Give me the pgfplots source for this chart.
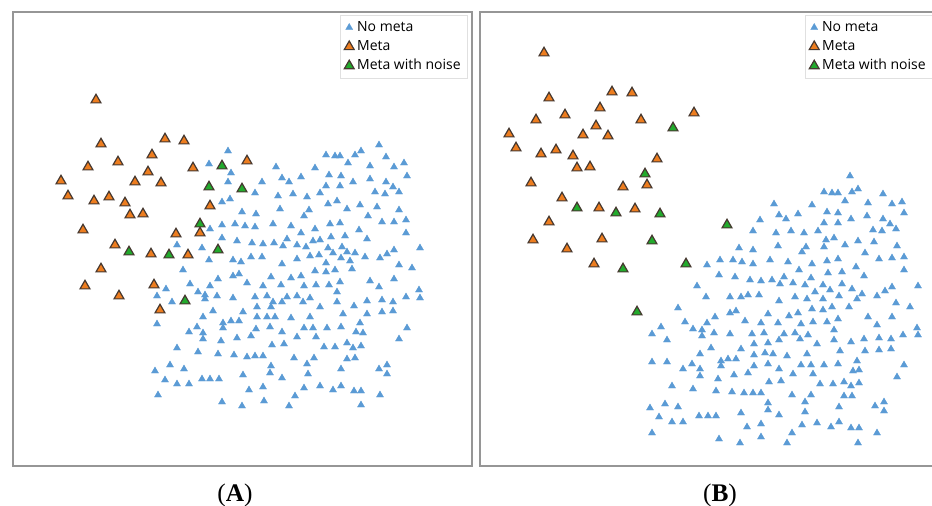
\documentclass[border=0pt]{standalone}
\usepackage{fontspec}
\setmainfont{Open Sans}
\newfontfamily\labfont{Liberation Serif}
\usepackage{pgfplots}
\pgfplotsset{compat=1.18}
\definecolor{cblue}{RGB}{91,155,213}
\definecolor{corange}{RGB}{237,125,31}
\definecolor{cgreen}{RGB}{34,170,44}
\definecolor{cedge}{RGB}{70,56,48}
\definecolor{cframe}{RGB}{150,150,150}
\pgfplotsset{
  panel/.style={
    scale only axis, y dir=reverse,
    xtick=\empty, ytick=\empty,
    ymin=12, ymax=466, height=340.5pt,
    axis line style={draw=cframe, line width=1.5pt},
    clip=false,
    legend cell align=left,
    legend style={draw=black!12, line width=0.4pt, font=\fontsize{10.5}{12}\selectfont,
      nodes={inner sep=2.2pt, text height=7.8pt, text depth=2.2pt}, anchor=north west},
  },
  nometa/.style={only marks, mark=triangle*, mark size=3.1pt, color=cblue, mark options={fill=cblue, draw=cblue, line width=0.2pt}},
  meta/.style={only marks, mark=triangle*, mark size=4.3pt, mark options={fill=corange, draw=cedge, line width=0.9pt}},
  metanoise/.style={only marks, mark=triangle*, mark size=4.3pt, mark options={fill=cgreen, draw=cedge, line width=0.9pt}},
}
\begin{document}
\begin{tikzpicture}
% ---------------- Panel A ----------------
\begin{axis}[panel, at={(9.75pt,-9pt)}, anchor=north west,
  width=344.25pt, xmin=13, xmax=472,
  legend style={at={(axis cs:340,15)}}]
\addplot[nometa] coordinates {
(228,151)(209,164)(231,173)(228,182)(262,182)(255,193)(222,202)(230,199)(242,212)(256,214)
(210,229)(222,225)(235,224)(245,226)(255,227)(273,224)(222,238)(237,241)(252,243)(263,244)
(274,243)(283,246)(291,226)(301,233)(280,209)(278,196)(293,194)(307,197)(320,193)(328,204)
(337,201)(347,209)(309,210)(304,216)(315,229)(330,224)(340,223)(360,205)(368,216)(377,207)
(382,222)(394,222)(406,220)(399,210)(385,194)(375,192)(393,187)(399,192)(386,182)(370,179)
(353,182)(340,186)(326,186)(329,175)(341,176)(315,168)(301,177)(289,182)(282,178)(276,167)
(326,155)(335,156)(340,156)(348,163)(355,155)(361,151)(379,145)(386,157)(370,166)(394,167)
(404,163)(407,176)(406,233)(420,248)(394,250)(387,254)(380,258)(367,239)(359,230)(345,236)
(342,247)(331,237)(328,248)(333,253)(320,240)(313,241)(306,247)(297,245)(287,239)
(347,252)(355,253)(365,257)(341,258)(350,261)(319,255)(310,256)(297,259)(282,264)(262,257)
(251,257)(241,262)(233,260)(209,260)(202,248)(177,245)(399,265)(412,268)(326,263)
(183,270)(233,276)(239,274)(271,277)(291,278)(301,276)(315,271)(326,272)(335,270)(352,269)
(370,281)(394,279)(379,287)(419,290)(420,298)(406,297)(393,302)(382,300)(367,301)(354,306)
(337,302)(320,307)(310,298)(303,302)(297,296)(287,297)(282,302)(273,302)(267,296)(255,297)
(247,283)(263,286)(281,285)(304,286)(316,285)(329,285)(340,282)(337,292)(218,279)(210,286)
(190,284)(198,292)(205,295)(205,299)(217,296)(233,298)(166,289)(157,296)(172,302)(157,324)
(213,311)(203,317)(197,327)(189,332)(203,333)(203,339)(223,323)(223,328)(231,321)(239,321)
(243,312)(257,307)(257,317)(267,317)(275,317)(271,307)(291,318)(310,317)(304,328)(313,328)
(327,328)(341,327)(343,314)(367,314)(382,312)(393,311)(360,323)(356,332)(363,333)(407,328)
(399,339)(361,346)(353,348)(347,343)(355,358)(347,359)(335,347)(324,347)(316,337)(297,337)
(282,332)(270,327)(256,329)(251,336)(237,338)(221,341)(284,344)(272,345)(177,348)(198,352)
(218,354)(234,355)(247,357)(255,356)(263,356)(294,358)(314,358)(307,364)(271,366)(270,373)
(282,378)(243,375)(308,374)(341,369)(379,369)(387,365)(387,374)(155,371)(170,365)(184,369)
(165,380)(177,384)(189,384)(202,379)(210,379)(219,379)(249,390)(263,387)(304,388)(320,386)
(333,390)(341,386)(354,391)(361,391)(380,395)(295,396)(158,395)(222,402)(242,406)(264,401)
(289,406)(361,405)
};
\addlegendentry{No meta}
\addplot[meta] coordinates {
(96,100)(101,144)(165,139)(184,141)(88,167)(118,162)(152,155)(193,168)(61,181)(148,172)
(135,182)(161,183)(68,196)(94,201)(109,197)(125,203)(130,215)(143,214)(210,206)(83,230)
(176,234)(200,233)(115,245)(151,254)(188,255)(101,269)(85,286)(154,285)(119,296)(160,310)
(247,161)
};
\addlegendentry{Meta}
\addplot[metanoise] coordinates {
(222,166)(209,187)(242,189)(200,224)(218,250)(129,252)(169,255)(185,301)
};
\addlegendentry{Meta with noise}
\end{axis}
% ---------------- Panel B ----------------
\begin{axis}[panel, at={(360pt,-9pt)}, anchor=north west,
  width=345pt, xmin=480, xmax=940,
  legend style={at={(axis cs:805,15)}}]
\addplot[nometa] coordinates {
(850,176)(824,192)(832,193)(838,193)(852,192)(858,189)(845,201)(883,194)(868,203)(892,204)
(902,202)(904,213)(774,204)(812,205)(779,215)(786,219)(798,214)(827,212)(838,213)(851,219)
(867,216)(883,219)(890,224)(896,229)(873,230)(882,231)(824,223)(838,223)(818,231)(760,220)
(753,231)(776,233)(791,231)(804,233)(826,240)(834,238)(845,245)(858,241)(874,242)(897,246)
(865,253)(879,259)(892,258)(904,257)(904,270)(778,246)(806,247)(802,252)(824,247)(739,248)
(753,250)(720,260)(733,260)(742,262)(753,264)(770,260)(788,262)(812,264)(827,261)(838,259)
(856,267)(864,276)(842,272)(828,273)(799,270)(707,265)(719,275)(735,277)(750,280)(761,281)
(772,280)(784,277)(780,284)(793,283)(805,285)(811,278)(823,285)(830,290)(842,284)(852,289)
(862,294)(877,296)(885,291)(892,287)(918,286)(697,286)(706,297)(730,297)(741,297)(748,295)
(759,295)(815,292)(779,301)(795,297)(807,299)(823,299)(839,296)(857,299)
(896,303)(910,307)(849,307)(832,307)(823,310)(812,309)(798,313)(789,316)(768,314)(778,323)
(801,324)(813,322)(827,322)(838,319)(868,317)(877,325)(892,317)(917,328)(918,335)(903,335)
(879,338)(891,339)(864,339)(851,342)(834,330)(834,340)(817,344)(808,335)(800,339)(795,333)
(784,334)(779,340)(768,343)(764,333)(752,334)(761,323)(745,321)(736,311)(730,313)(715,317)
(707,323)(702,330)(702,336)(714,333)(730,334)(693,329)(685,322)(678,308)(661,327)(652,334)
(667,340)(711,348)(700,354)(741,349)(754,344)(754,355)(765,353)(773,354)(787,356)(807,354)
(840,351)(865,351)(879,350)(891,349)(904,365)(897,377)(857,361)(859,370)(853,371)(838,364)
(824,365)(811,365)(801,365)(813,374)(793,374)(779,369)(768,364)(754,366)(748,373)(734,375)
(736,359)(728,359)(721,361)(721,366)(700,369)(700,376)(692,364)(683,369)(667,362)(652,362)
(672,386)(693,389)(716,391)(718,379)(732,392)(744,393)(753,393)(761,393)(769,382)(781,381)
(792,395)(811,395)(820,384)(833,384)(844,382)(851,386)(859,383)(852,396)(844,396)(805,402)
(839,407)(875,406)(884,402)(884,411)(768,403)(768,410)(779,415)(741,413)(805,412)(650,408)
(665,404)(678,407)(659,417)(672,422)(683,422)(699,416)(708,416)(716,416)(652,433)(719,439)
(740,443)(747,427)(761,424)(761,437)(792,433)(787,443)(802,425)(817,423)(831,427)(839,422)
(851,428)(859,428)(877,433)(858,443)
};
\addlegendentry{No meta}
\addplot[meta] coordinates {
(544,53)(549,98)(612,92)(632,93)(600,108)(536,120)(565,115)(596,126)(641,120)(694,113)
(509,134)(583,135)(608,136)(516,148)(541,154)(556,150)(573,156)(577,168)(590,167)(657,159)
(531,183)(623,187)(647,185)(562,198)(599,208)(635,209)(549,222)(533,240)(602,239)(567,249)
(594,264)
};
\addlegendentry{Meta}
\addplot[metanoise] coordinates {
(673,128)(645,174)(577,208)(616,213)(660,214)(652,241)(623,269)(686,264)(637,312)(727,225)
};
\addlegendentry{Meta with noise}
\end{axis}
\node[font=\labfont\fontsize{19}{22}\selectfont] at (176.25pt,-371.5pt) {(\textbf{A})};
\node[font=\labfont\fontsize{19}{22}\selectfont] at (540pt,-371.5pt) {(\textbf{B})};
\pgfresetboundingbox
\useasboundingbox (0,0) rectangle (699pt,-379.5pt);
\end{tikzpicture}
\end{document}
